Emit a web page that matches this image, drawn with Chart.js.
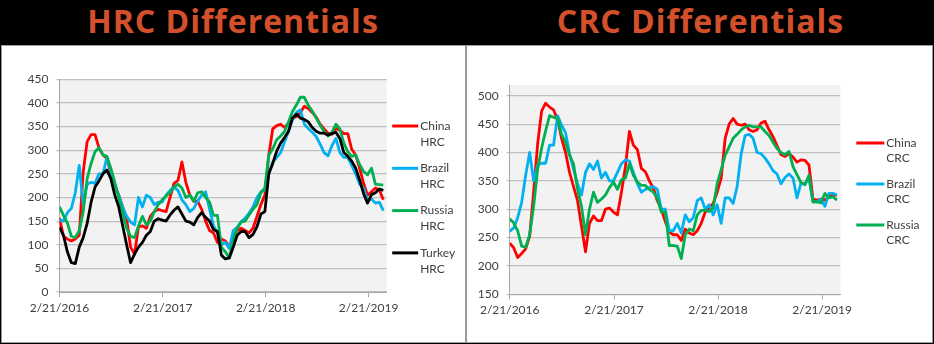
<!DOCTYPE html>
<html>
<head>
<meta charset="utf-8">
<script src="https://cdn.jsdelivr.net/npm/chart.js@4.4.1/dist/chart.umd.min.js"></script>
<style>
  html, body { margin: 0; padding: 0; background: #000; }
  body { width: 934px; height: 344px; position: relative; overflow: hidden; }
  .title {
    position: absolute; top: 0; height: 45px; line-height: 42px; text-align: center;
    color: #D4502B; font-family: "Open Sans", sans-serif; font-weight: 700; font-size: 32px;
    letter-spacing: 1px;
  }
  .panel { position: absolute; background: #fff; border: 1px solid #9a9a9a; box-sizing: border-box; }
  .panel canvas { display: block; }
</style>
</head>
<body>
<div class="title" style="left:0;width:466px">HRC Differentials</div>
<div class="title" style="left:467px;width:467px">CRC Differentials</div>
<div class="panel" style="left:1px;top:45px;width:465px;height:298px"><canvas id="hrc" width="463" height="296"></canvas></div>
<div class="panel" style="left:466px;top:45px;width:467px;height:298px"><canvas id="crc" width="465" height="296"></canvas></div>
<script>
// Days after 2/21/2016, one reading every two weeks.
const dayOffsets = [0,14,28,42,56,70,84,98,112,126,
  140,154,168,182,196,210,224,238,252,266,
  280,294,308,322,336,350,364,378,392,406,
  420,434,448,462,476,490,504,518,532,546,
  560,574,588,602,616,630,644,658,672,686,
  700,714,728,742,756,770,784,798,812,826,
  840,854,868,882,896,910,924,938,952,966,
  980,994,1008,1022,1036,1050,1064,1078,1092,1106,
  1120,1134,1148];

const xTickDays = [0, 366, 731, 1096];
const xTickLabels = ['2/21/2016', '2/21/2017', '2/21/2018', '2/21/2019'];
const hrcTicks = [0, 50, 100, 150, 200, 250, 300, 350, 400, 450];
const crcTicks = [150, 200, 250, 300, 350, 400, 450, 500];

// HRC differentials
const chinaHrc = [157,118,112,108,112,120,254,318,333,333,
  305,290,283,250,225,205,180,155,95,80,
  138,140,135,160,170,175,172,170,200,230,
  236,275,232,205,192,192,175,150,130,125,
  105,112,108,95,118,130,135,130,125,135,
  160,185,205,290,345,352,355,348,357,368,
  371,380,393,388,380,370,355,345,336,334,
  346,342,335,335,302,290,262,230,205,212,
  220,216,195];
const brazilHrc = [153,150,168,177,210,268,185,228,232,230,
  250,250,285,255,225,205,180,160,148,142,
  200,180,205,200,185,190,190,205,215,222,
  215,195,185,170,177,192,205,212,175,140,
  125,100,105,92,130,137,149,156,167,180,
  200,212,216,250,275,285,295,318,340,365,
  380,385,355,346,338,329,313,295,288,310,
  325,295,285,285,268,250,228,220,193,197,
  188,190,172];
const russiaHrc = [180,162,146,118,115,130,170,240,272,297,
  305,290,287,262,232,200,168,135,118,115,
  140,160,142,150,170,185,195,203,210,222,
  228,220,200,205,192,210,212,200,190,162,
  162,95,85,72,110,135,148,150,163,175,
  185,210,220,290,303,322,330,340,360,382,
  396,412,412,395,383,368,353,340,330,338,
  355,345,315,297,287,290,270,255,248,262,
  228,227,226];
const turkeyHrc = [137,120,85,62,60,95,115,145,190,222,
  235,250,258,240,205,180,140,100,62,80,
  95,105,120,128,150,155,152,150,163,173,
  180,165,150,148,142,158,168,158,150,132,
  128,78,70,72,95,120,128,128,115,122,
  138,165,170,250,272,298,315,327,340,368,
  376,368,365,360,348,340,336,336,332,335,
  338,325,295,287,277,262,237,208,188,206,
  210,218,215];

// CRC differentials
const chinaCrc = [240,232,215,222,230,252,330,415,473,487,
  480,475,458,425,400,365,340,315,270,225,
  275,288,280,280,300,302,295,290,330,375,
  437,413,405,372,366,350,337,315,300,278,
  260,255,255,245,265,258,255,262,275,295,
  303,310,330,355,425,450,460,450,448,450,
  440,437,440,452,455,440,428,412,396,393,
  398,392,383,387,386,378,318,316,318,316,
  322,325,325];
const brazilCrc = [261,267,285,312,360,400,350,378,381,381,
  413,413,465,448,435,398,370,345,325,365,
  380,370,385,355,365,350,350,365,380,387,
  385,365,345,330,335,338,340,335,300,300,
  262,262,275,258,290,278,285,315,320,300,
  308,290,308,275,320,320,310,340,397,430,
  432,425,400,398,390,380,368,362,345,356,
  362,355,320,346,345,355,313,313,318,305,
  328,328,325];
const russiaCrc = [283,276,262,235,233,255,305,370,408,438,
  465,462,460,432,418,395,380,335,305,255,
  300,330,312,318,325,338,348,335,352,355,
  380,360,348,342,342,335,330,320,295,295,
  236,236,235,213,255,265,262,290,298,298,
  296,302,345,370,395,410,425,432,440,445,
  448,445,445,445,437,430,418,407,400,396,
  402,375,361,347,343,360,313,313,311,328,
  320,322,316];

const hrcNames = ['China', 'Brazil', 'Russia', 'Turkey'];
const crcNames = ['China', 'Brazil', 'Russia'];
const lineColors = ['#FF0000', '#00B0F0', '#00B050', '#000000'];

const FONT = 'Lato, "Liberation Sans", sans-serif';
const TEXT = '#404040';

// Gray plot area like Excel.
const plotBg = {
  id: 'plotBg',
  beforeDraw(chart, args, opts) {
    const a = chart.chartArea;
    const ctx = chart.ctx;
    ctx.save();
    ctx.fillStyle = opts.color;
    ctx.fillRect(a.left, a.top, a.right - a.left, a.bottom - a.top);
    ctx.restore();
  }
};

// Two-line legend on the right.
const sideLegend = {
  id: 'sideLegend',
  afterDraw(chart, args, opts) {
    const ctx = chart.ctx;
    const x0 = chart.chartArea.right + opts.gap;
    ctx.save();
    ctx.font = '12px ' + FONT;
    ctx.textBaseline = 'middle';
    ctx.fillStyle = TEXT;
    chart.data.datasets.forEach(function (ds, i) {
      let y = opts.top + i * opts.row;
      ctx.strokeStyle = ds.borderColor;
      ctx.lineWidth = 3;
      ctx.beginPath();
      ctx.moveTo(x0, y);
      ctx.lineTo(x0 + opts.lineLen, y);
      ctx.stroke();
      ds.legendLines.forEach(function (txt, j) {
        ctx.fillText(txt, x0 + opts.lineLen + 2, y + j * opts.lineH);
      });
    });
    ctx.restore();
  }
};

function makeChart(id, names, suffix, series, yMin, yMax, yTicks, pad, xHeight, yWidth, legend) {
  const datasets = series.map(function (vals, i) {
    return {
      label: names[i] + ' ' + suffix,
      legendLines: [names[i], suffix],
      data: dayOffsets.map(function (d, k) { return {x: d, y: vals[k]}; }),
      borderColor: lineColors[i],
      borderWidth: 2.8,
      pointRadius: 0,
      tension: 0,
      borderJoinStyle: 'round',
      order: series.length - i
    };
  });
  return new Chart(document.getElementById(id), {
    type: 'line',
    data: {datasets: datasets},
    plugins: [plotBg, sideLegend],
    options: {
      responsive: false,
      animation: false,
      events: [],
      layout: {padding: pad},
      plugins: {
        legend: {display: false},
        tooltip: {enabled: false},
        plotBg: {color: '#F2F2F2'},
        sideLegend: legend
      },
      scales: {
        x: {
          type: 'linear',
          min: 0,
          max: 1160,
          afterBuildTicks: function (s) { s.ticks = xTickDays.map(function (v) { return {value: v}; }); },
          afterFit: function (s) { s.height = xHeight; },
          ticks: {
            autoSkip: false,
            maxRotation: 0,
            padding: 4,
            color: TEXT,
            font: {family: FONT, size: 12},
            callback: function (v) { return xTickLabels[xTickDays.indexOf(v)]; }
          },
          grid: {drawOnChartArea: false, drawTicks: true, tickLength: 5, color: '#A6A6A6'},
          border: {display: true, color: '#A6A6A6', width: 1}
        },
        y: {
          min: yMin,
          max: yMax,
          afterBuildTicks: function (s) { s.ticks = yTicks.map(function (v) { return {value: v}; }); },
          afterFit: function (s) { s.width = yWidth; },
          ticks: {padding: 8, color: TEXT, font: {family: FONT, size: 12}},
          grid: {color: '#BFBFBF', lineWidth: 1.2, tickLength: 3},
          border: {display: true, color: '#A6A6A6', width: 1}
        }
      }
    }
  });
}

makeChart('hrc', hrcNames, 'HRC', [chinaHrc, brazilHrc, russiaHrc, turkeyHrc],
  0, 450, hrcTicks, {left: 0, right: 78.3, top: 33.3, bottom: 0}, 50, 57.5,
  {gap: 5.5, lineLen: 26, top: 80, row: 42.3, lineH: 16});

makeChart('crc', crcNames, 'CRC', [chinaCrc, brazilCrc, russiaCrc],
  150, 519, crcTicks, {left: 0, right: 91.7, top: 39, bottom: 0}, 47.7, 42.7,
  {gap: 16, lineLen: 28, top: 97, row: 41, lineH: 15.5});
</script>
</body>
</html>
